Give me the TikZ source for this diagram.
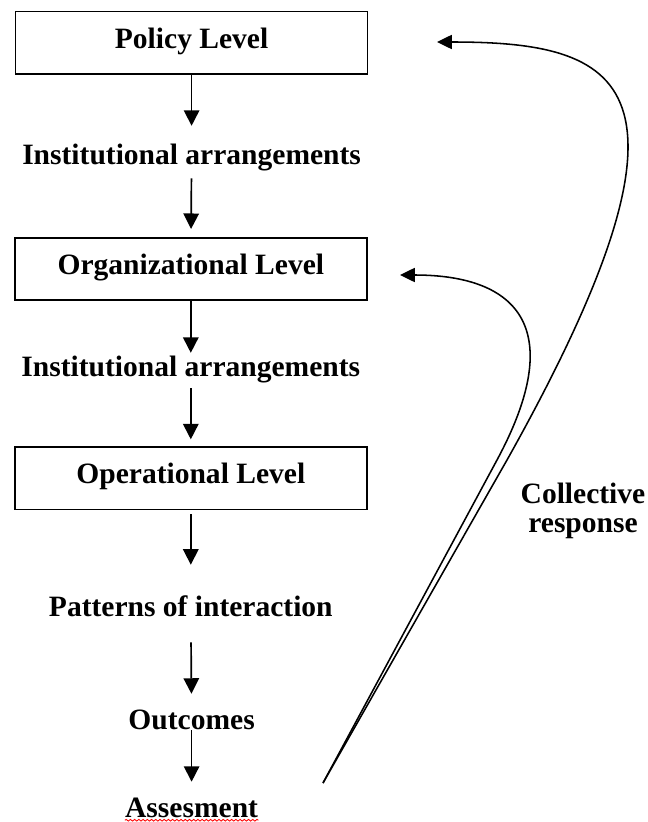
\documentclass[tikz,border=0pt]{standalone}
\usepackage{fontspec}
\setmainfont{Liberation Serif}
\usepackage{tikz}
\usetikzlibrary{arrows.meta}
\usetikzlibrary{decorations.pathmorphing}
\pgfdeclarelayer{nodelayer}
\pgfdeclarelayer{edgelayer}
\pgfsetlayers{edgelayer,nodelayer,main}
\tikzstyle{none}=[inner sep=0pt, text height=14.7pt, text depth=0pt, anchor=base, font=\fontsize{21}{25}\selectfont\bfseries]
\tikzstyle{note}=[inner sep=0pt, align=center, font=\fontsize{21}{20.6}\selectfont\bfseries]
\tikzset{box/.style={draw=black, line width=1.2pt, inner sep=0pt, minimum width=8.8cm, minimum height=1.56cm,
text height=11.5pt, text depth=3.8pt, text centered, anchor=center, font=\fontsize{21}{25}\selectfont\bfseries}}
\tikzset{flow/.style={line width=1.2pt, -{Triangle[length=11pt,width=11pt]}}}
\tikzset{feedback/.style={line width=1.1pt, -{Triangle[length=10.5pt,width=10pt]}}}
\tikzset{spell/.style={draw=red, line width=0.6pt, decorate, decoration={snake, amplitude=0.6pt, segment length=3pt}}}

\begin{document}
\begin{tikzpicture}
        \useasboundingbox (0, 0) rectangle (16.2, -20.55);
        \begin{pgfonlayer}{nodelayer}
            \node [style=box] (0) at (4.79, -1.07) {Policy Level};
            \node [style=none] (1) at (4.79, -4.1) {Institutional arrangements};
            \node [style=box] (2) at (4.77, -6.725) {Organizational Level};
            \node [style=none] (3) at (4.77, -9.4) {Institutional arrangements};
            \node [style=box] (4) at (4.77, -11.96) {Operational Level};
            \node [style=none] (5) at (4.77, -15.4) {Patterns of interaction};
            \node [style=none] (6) at (4.79, -18.225) {Outcomes};
            \node [style=none] (7) at (4.79, -20.425) {Assesment};
            \node [style=note] (8) at (14.575, -12.765) {Collective\\response};
            \coordinate (9) at (8.075, -19.575);
            \coordinate (10) at (10.0, -6.875);
            \coordinate (11) at (10.925, -1.05);
        \end{pgfonlayer}
        \begin{pgfonlayer}{edgelayer}
            \draw [style=flow, shorten >=12.3pt] (0) to (1);
            \draw [style=flow, shorten <=10pt, shorten >=5.7pt] (1) to (2);
            \draw [style=flow, shorten >=1.6pt] (2) to (3);
            \draw [style=flow, shorten <=8.5pt, shorten >=5pt] (3) to (4);
            \draw [style=flow, shorten <=2.8pt, shorten >=21.6pt] (4) to (5);
            \draw [style=flow, shorten <=18.5pt, shorten >=10.2pt] (5) to (6);
            \draw [style=flow, shorten <=0.7pt, shorten >=10.2pt] (6) to (7);
            % collective response back up to the levels
            \draw [style=feedback] (9) -- (12.425, -11.5) .. controls (14.175, -8.25) and (13.0, -6.875) .. (10);
            \draw [style=feedback] (9) -- (12.675, -11.5) .. controls (18.0, -2.0) and (15.5, -1.05) .. (11);
            \draw [style=spell] ([yshift=-2.1pt]7.south west) -- ([yshift=-2.1pt]7.south east);
        \end{pgfonlayer}
    \end{tikzpicture}
\end{document}
